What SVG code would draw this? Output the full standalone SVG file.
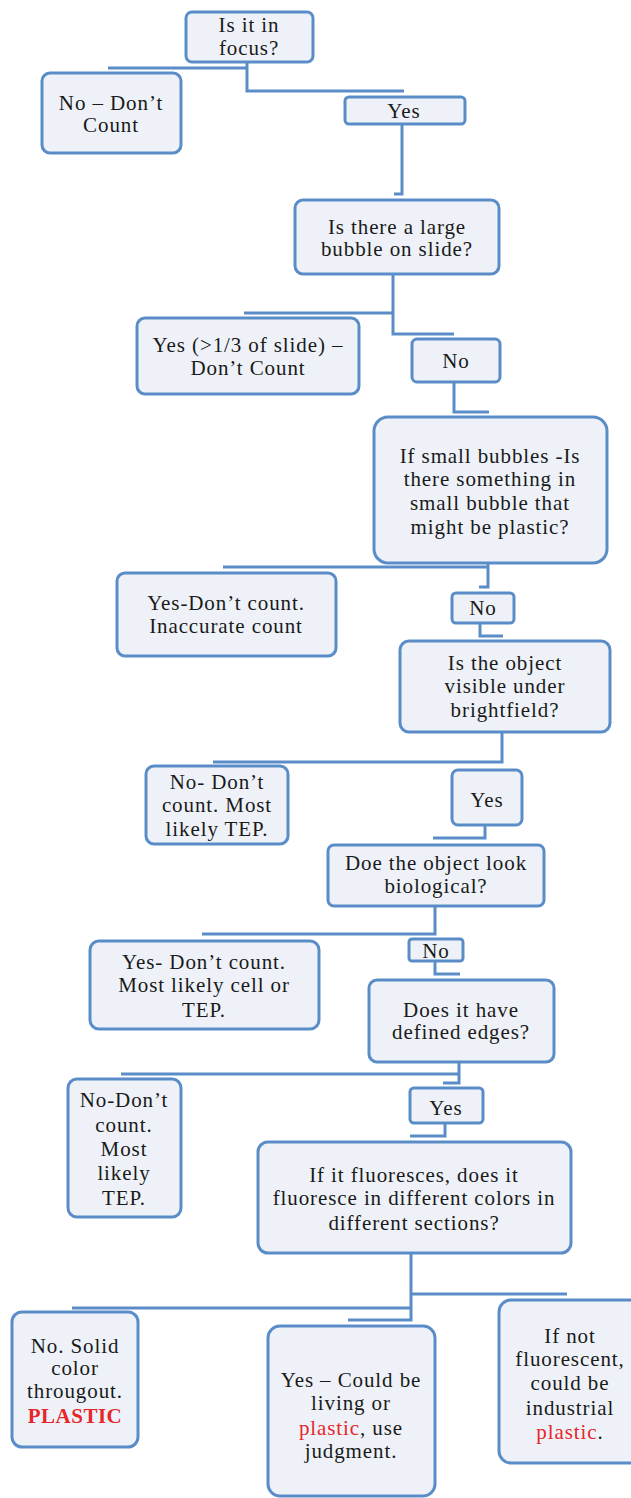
<svg xmlns="http://www.w3.org/2000/svg" width="631" height="1498" viewBox="0 0 631 1498">
<style>
.box{fill:#eef2f8;stroke:#5a8dc8;stroke-width:3}
.c{fill:none;stroke:#5a8dc8;stroke-width:3}
text{font-family:"Liberation Serif","Times New Roman",serif;font-size:21px;letter-spacing:0.9px;fill:#1a1a1a;text-anchor:middle}
.red{fill:#e8262a}
.b{font-weight:bold;letter-spacing:0.5px}
</style>
<rect width="631" height="1498" fill="#ffffff"/>
<g id="connectors">
<path class="c" d="M247,62 V91 H404 M108,68 H247"/>
<path class="c" d="M402,124 V194 H394"/>
<path class="c" d="M393,274 V334 H454 M244,313 H393"/>
<path class="c" d="M454,382 V412 H489"/>
<path class="c" d="M223,567 H488 M488,563 V587 H479"/>
<path class="c" d="M480,623 V636 H503"/>
<path class="c" d="M502,732 V762 H213"/>
<path class="c" d="M485,825 V838 H433"/>
<path class="c" d="M435,906 V934 H202"/>
<path class="c" d="M435,961 V974 H460"/>
<path class="c" d="M459,1062 V1083 H443 M121,1074 H459"/>
<path class="c" d="M445,1123 V1136 H410"/>
<path class="c" d="M411,1253 V1320 H348 M72,1308 H411 M411,1294 H567"/>
</g>
<g id="n1"><rect class="box" x="186" y="12" width="127" height="50" rx="6"/><text x="249" y="32">Is it in</text><text x="249" y="55">focus?</text></g>
<g id="n2"><rect class="box" x="42" y="73" width="139" height="80" rx="8"/><text x="111" y="110">No – Don’t</text><text x="111" y="132">Count</text></g>
<g id="n3"><rect class="box" x="345" y="97" width="120" height="27" rx="4"/><text x="404" y="118">Yes</text></g>
<g id="n4"><rect class="box" x="295" y="200" width="204" height="74" rx="8"/><text x="397" y="234">Is there a large</text><text x="397" y="256">bubble on slide?</text></g>
<g id="n5"><rect class="box" x="137" y="318" width="222" height="76" rx="8"/><text x="248" y="352">Yes (&gt;1/3 of slide) –</text><text x="248" y="375">Don’t Count</text></g>
<g id="n6"><rect class="box" x="412" y="339" width="88" height="43" rx="5"/><text x="456" y="368">No</text></g>
<g id="n7"><rect class="box" x="374" y="417" width="233" height="146" rx="14"/><text x="490" y="463">If small bubbles -Is</text><text x="490" y="486">there something in</text><text x="490" y="510">small bubble that</text><text x="490" y="534">might be plastic?</text></g>
<g id="n8"><rect class="box" x="117" y="573" width="219" height="83" rx="8"/><text x="226" y="610">Yes-Don’t count.</text><text x="226" y="633">Inaccurate count</text></g>
<g id="n9"><rect class="box" x="452" y="593" width="62" height="30" rx="4"/><text x="483" y="615">No</text></g>
<g id="n10"><rect class="box" x="400" y="641" width="210" height="91" rx="9"/><text x="505" y="670">Is the object</text><text x="505" y="693">visible under</text><text x="505" y="717">brightfield?</text></g>
<g id="n11"><rect class="box" x="146" y="766" width="142" height="78" rx="8"/><text x="217" y="789">No- Don’t</text><text x="217" y="812">count. Most</text><text x="217" y="836">likely TEP.</text></g>
<g id="n12"><rect class="box" x="452" y="770" width="70" height="55" rx="6"/><text x="487" y="807">Yes</text></g>
<g id="n13"><rect class="box" x="328" y="845" width="216" height="61" rx="6"/><text x="436" y="870">Doe the object look</text><text x="436" y="893">biological?</text></g>
<g id="n14"><rect class="box" x="90" y="941" width="229" height="88" rx="9"/><text x="204" y="969">Yes- Don’t count.</text><text x="204" y="992">Most likely cell or</text><text x="204" y="1017">TEP.</text></g>
<g id="n15"><rect class="box" x="409" y="939" width="54" height="22" rx="3"/><text x="436" y="958">No</text></g>
<g id="n16"><rect class="box" x="369" y="980" width="185" height="82" rx="8"/><text x="461" y="1017">Does it have</text><text x="461" y="1039">defined edges?</text></g>
<g id="n17"><rect class="box" x="68" y="1079" width="113" height="138" rx="9"/><text x="124" y="1107">No-Don’t</text><text x="124" y="1132">count.</text><text x="124" y="1156">Most</text><text x="124" y="1180">likely</text><text x="124" y="1205">TEP.</text></g>
<g id="n18"><rect class="box" x="410" y="1088" width="73" height="35" rx="4"/><text x="446" y="1115">Yes</text></g>
<g id="n19"><rect class="box" x="258" y="1142" width="313" height="111" rx="10"/><text x="414" y="1182">If it fluoresces, does it</text><text x="414" y="1205">fluoresce in different colors in</text><text x="414" y="1230">different sections?</text></g>
<g id="n20"><rect class="box" x="12" y="1312" width="126" height="135" rx="10"/><text x="75" y="1353">No. Solid</text><text x="75" y="1375">color</text><text x="75" y="1398">througout.</text><text x="75" y="1423" class="red b">PLASTIC</text></g>
<g id="n21"><rect class="box" x="268" y="1326" width="167" height="170" rx="12"/><text x="351" y="1387">Yes – Could be</text><text x="351" y="1410">living or</text><text x="351" y="1435"><tspan class="red">plastic</tspan>, use</text><text x="351" y="1458">judgment.</text></g>
<g id="n22"><rect class="box" x="499" y="1300" width="150" height="163" rx="12"/><text x="570" y="1343">If not</text><text x="570" y="1366">fluorescent,</text><text x="570" y="1390">could be</text><text x="570" y="1415">industrial</text><text x="570" y="1439"><tspan class="red">plastic</tspan>.</text></g>
</svg>
